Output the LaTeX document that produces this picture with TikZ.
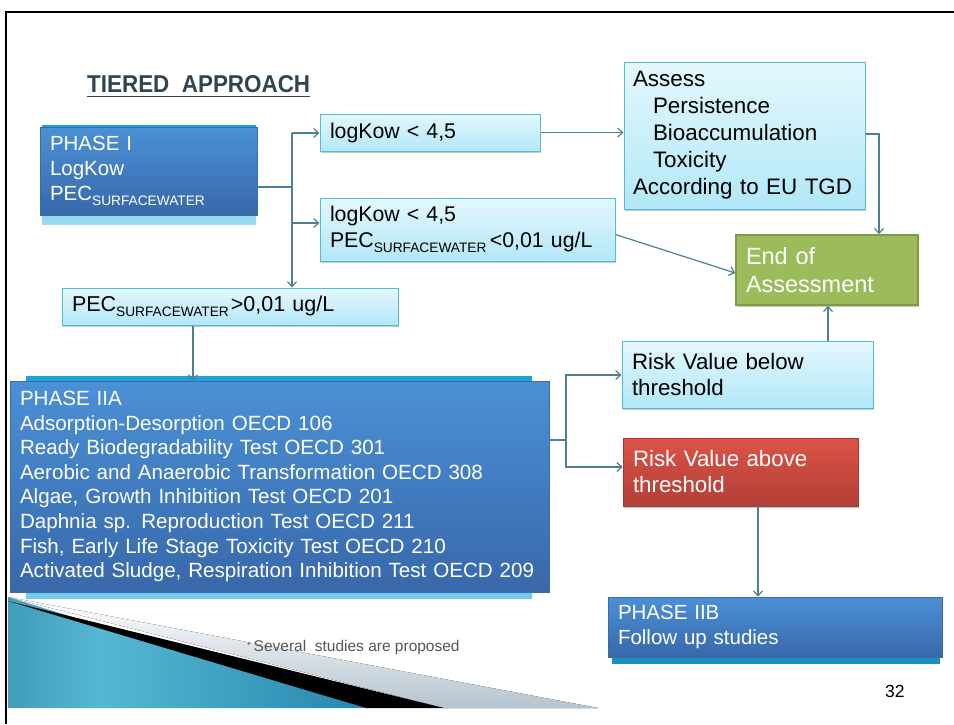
\documentclass[tikz,border=0pt]{standalone}
\usepackage{fontspec}
\usepackage{graphicx}
\setmainfont{Liberation Sans}
\usetikzlibrary{arrows.meta,shadows}

% palette
\definecolor{dktop}{HTML}{4B90D6}
\definecolor{dkbot}{HTML}{3868AA}
\definecolor{dkborder}{HTML}{3A6CA8}
\definecolor{lttop}{HTML}{E4F7FD}
\definecolor{ltbot}{HTML}{B2E8F8}
\definecolor{ltborder}{HTML}{55BAD6}
\definecolor{grfill}{HTML}{9CBB5A}
\definecolor{grborder}{HTML}{7E9B45}
\definecolor{rdtop}{HTML}{DB5347}
\definecolor{rdbot}{HTML}{B23F37}
\definecolor{rdborder}{HTML}{A53A32}
\definecolor{connc}{HTML}{4D8097}
\definecolor{stripA}{HTML}{1BA2D8}
\definecolor{stripB}{HTML}{9CDDF2}
\definecolor{stripC}{HTML}{1890C0}
\definecolor{titlec}{HTML}{2F4550}
\definecolor{footc}{HTML}{555555}
\definecolor{tealA}{HTML}{1B6A8C}
\definecolor{tealB}{HTML}{55B8D2}
\definecolor{tealC}{HTML}{2B8AB2}
\definecolor{tealD}{HTML}{1E6C94}
\definecolor{greyband}{HTML}{B6C4CF}

\pgfdeclarehorizontalshading{tealband}{100bp}{color(0bp)=(tealA); color(38bp)=(tealB); color(72bp)=(tealC); color(100bp)=(tealD)}

% lowered subscript text
\newcommand{\subtext}[1]{\raisebox{-4.5pt}{\fontsize{13.7}{14}\selectfont #1}}

\tikzset{
  basebox/.style={align=left, inner xsep=10pt, inner ysep=0pt},
  darkbox/.style={basebox, draw=dkborder, line width=0.6pt, top color=dktop, bottom color=dkbot, text=white},
  lightbox/.style={basebox, draw=ltborder, line width=1pt, top color=lttop, bottom color=ltbot, text=black,
    drop shadow={shadow xshift=1.2pt, shadow yshift=-1.8pt, opacity=0.3, fill=black!70}},
  greenbox/.style={basebox, draw=grborder, line width=1.5pt, fill=grfill, text=white,
    drop shadow={shadow xshift=1.2pt, shadow yshift=-1.8pt, opacity=0.3, fill=black!70}},
  redbox/.style={basebox, draw=rdborder, line width=0.6pt, top color=rdtop, bottom color=rdbot, text=white,
    drop shadow={shadow xshift=1.2pt, shadow yshift=-1.8pt, opacity=0.3, fill=black!70}},
  link/.style={draw=connc, line width=1.2pt},
  arrowlink/.style={link, -{Straight Barb[length=5pt,width=9pt]}},
}

\begin{document}
\begin{tikzpicture}[x=1pt,y=-1pt]
\useasboundingbox (0,0) rectangle (954,724);
\fill[white] (0,0) rectangle (954,724);

% corner ornament at the lower left
\fill[bottom color=greyband, top color=white] (8,597) -- (598,708) -- (444,708) -- cycle;
\shade[shading=tealband] (8,597) -- (366,708) -- (8,708) -- cycle;
\fill[black] (8,601) -- (444,708) -- (366,708) -- cycle;

% slide frame
\draw[black, line width=2pt] (6,724) -- (6,12) -- (954,12);

% title
\node[anchor=south west, inner sep=0pt, text=titlec] (title) at (87,93)
  {\resizebox{223pt}{17pt}{\fontsize{22}{22}\selectfont\bfseries TIERED\ \ APPROACH}};
\draw[titlec, line width=1.8pt] ([yshift=-3.5pt]title.south west) -- ([yshift=-3.5pt]title.south east);

% cyan backing strips under the dark boxes
\fill[top color=stripA, bottom color=stripB] (42,125) rectangle (256,224);
\fill[top color=stripA, bottom color=stripB!70!stripA] (26,376) rectangle (532,598);
\fill[stripC] (612,650) rectangle (940,664);

% boxes
\node[darkbox, minimum width=217pt, minimum height=88pt, text width=197pt,
  font=\fontsize{20.5}{25}\selectfont] (ph1) at (148.5,171)
  {PHASE I\\LogKow\\PEC\subtext{SURFACEWATER}};

\node[lightbox, minimum width=220pt, minimum height=37pt, text width=200pt,
  font=\fontsize{21.3}{26}\selectfont] (box1) at (430,132.5)
  {logKow < 4,5};

\node[lightbox, minimum width=295pt, minimum height=63pt, text width=275pt,
  font=\fontsize{21.3}{26}\selectfont] (box2) at (467.5,229.5)
  {logKow < 4,5\\PEC\subtext{SURFACEWATER}\hspace{3.5pt}<0,01 ug/L};

\node[lightbox, minimum width=241pt, minimum height=147pt, text width=223pt, inner xsep=9pt,
  font=\fontsize{22.4}{27}\selectfont] (assess) at (744.5,135.5)
  {Assess\\\hspace*{20pt}Persistence\\\hspace*{20pt}Bioaccumulation\\\hspace*{20pt}Toxicity\\According to EU TGD};

\node[greenbox, minimum width=182pt, minimum height=70pt, text width=162pt,
  font=\fontsize{23.5}{28}\selectfont] (end) at (827,270)
  {End of\\Assessment};

\node[lightbox, minimum width=336pt, minimum height=37pt, text width=316pt,
  font=\fontsize{21.5}{26}\selectfont] (pec) at (230,306.5)
  {PEC\subtext{SURFACEWATER}\hspace{2pt}>0,01 ug/L};

\node[darkbox, minimum width=539pt, minimum height=211pt, text width=519pt,
  font=\fontsize{20.6}{24.6}\selectfont] (iia) at (279.5,486.5)
  {PHASE IIA\\
   Adsorption-Desorption OECD 106\\
   Ready Biodegradability Test OECD 301\\
   Aerobic and Anaerobic Transformation OECD 308\\
   Algae, Growth Inhibition Test OECD 201\\
   Daphnia sp. Reproduction Test OECD 211\\
   Fish, Early Life Stage Toxicity Test OECD 210\\
   Activated Sludge, Respiration Inhibition Test OECD 209};

\node[lightbox, minimum width=251pt, minimum height=67pt, text width=231pt,
  font=\fontsize{22.3}{26}\selectfont] (riskb) at (747.5,374.5)
  {Risk Value below\\threshold};

\node[redbox, minimum width=235pt, minimum height=68pt, text width=215pt,
  font=\fontsize{22.3}{26}\selectfont] (riska) at (740.5,472)
  {Risk Value above\\threshold};

\node[darkbox, minimum width=334pt, minimum height=60pt, text width=314pt,
  font=\fontsize{20.5}{25}\selectfont] (iib) at (775,627)
  {PHASE IIB\\Follow up studies};

% footnote and page number
\node[anchor=base west, inner sep=0pt, text=footc, font=\fontsize{15.5}{15.5}\selectfont] (note) at (247,651)
  {\raisebox{3pt}{\fontsize{9}{9}\selectfont *}\hspace{3pt}Several\ \ studies are proposed};
\node[anchor=base west, inner sep=0pt, font=\fontsize{17.5}{17.5}\selectfont] (page) at (885,697) {32};

% connectors from phase I
\coordinate (ja) at (292,133);
\coordinate (jb) at (292,187);
\coordinate (jc) at (292,223);
\draw[link] (ph1.east |- jb) -- (jb);
\draw[arrowlink] (ja) -- (ja |- pec.north);
\draw[arrowlink] (ja) -- (ja -| box1.west);
\draw[arrowlink] (jc) -- (jc -| box2.west);

% connectors towards the end of the assessment
\draw[arrowlink] (box1.east) -- (box1.east -| assess.west);
\draw[arrowlink] ([yshift=-5pt]box2.east) -- ([yshift=-3pt]end.west);
\coordinate (jd) at (879,134);
\draw[arrowlink] (assess.east |- jd) -- (jd) -- (jd |- end.north);

% PEC to phase IIA
\coordinate (je) at (193,325);
\draw[arrowlink] (pec.south -| je) -- (je |- iia.north);

% phase IIA outcomes
\coordinate (jf) at (566,440);
\coordinate (jg) at (566,375);
\coordinate (jh) at (566,467);
\draw[link] (iia.east |- jf) -- (jf);
\draw[arrowlink] (jf) -- (jg) -- (jg -| riskb.west);
\draw[arrowlink] (jf) -- (jh) -- (jh -| riska.west);

\coordinate (ji) at (828,320);
\draw[arrowlink] (riskb.north -| ji) -- (ji |- end.south);
\coordinate (jj) at (758,550);
\draw[arrowlink] (riska.south -| jj) -- (jj |- iib.north);
\end{tikzpicture}
\end{document}
